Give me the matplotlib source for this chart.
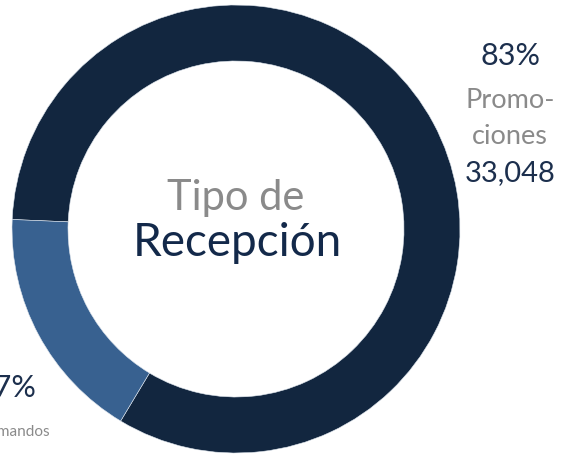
import matplotlib.pyplot as plt

categorias = ["Promociones", "Comandos"]
valores = [33048, 6800]
porcentajes = ["83%", "17%"]
colores = ["#12263f", "#386190"]

plt.rcParams["font.family"] = ["Lato", "DejaVu Sans"]

fig = plt.figure(figsize=(5.61, 4.54), dpi=100)
ax = fig.add_axes([0, 0, 1, 1])

# centro del anillo en pixel (236, 229), radio 224 px
cx, cy, r = 236, 229, 224


def px(x, y):
    return (x - cx) / r, (cy - y) / r


ax.pie(valores, colors=colores, startangle=239, counterclock=True,
       radius=1, wedgeprops=dict(width=0.25, edgecolor="#dfe6ee", linewidth=0.4))

ax.set_xlim(px(0, 0)[0], px(561, 0)[0])
ax.set_ylim(px(0, 454)[1], px(0, 0)[1])
ax.set_aspect("auto")
ax.axis("off")

navy = "#1c2f4d"
gris = "#8a8a8a"

# etiqueta derecha
ax.text(*px(511, 56), porcentajes[0], color=navy, fontsize=22, ha="center", va="center")
ax.text(*px(510, 100), "Promo-", color=gris, fontsize=19.5, ha="center", va="center")
ax.text(*px(510, 137), "ciones", color=gris, fontsize=19.5, ha="center", va="center")
ax.text(*px(510, 173), f"{valores[0]:,}", color=navy, fontsize=21, ha="center", va="center")

# etiqueta izquierda (recortada como en el original)
ax.text(*px(36, 388), porcentajes[1], color=navy, fontsize=22, ha="right", va="center")
ax.text(*px(50, 432), categorias[1], color=gris, fontsize=11, ha="right", va="center")

# centro
ax.text(*px(236, 198), "Tipo de", color=gris, fontsize=30, ha="center", va="center")
ax.text(*px(237, 243), "Recepción", color="#13294a", fontsize=33, ha="center", va="center")

fig.savefig("out.png", dpi=100)
